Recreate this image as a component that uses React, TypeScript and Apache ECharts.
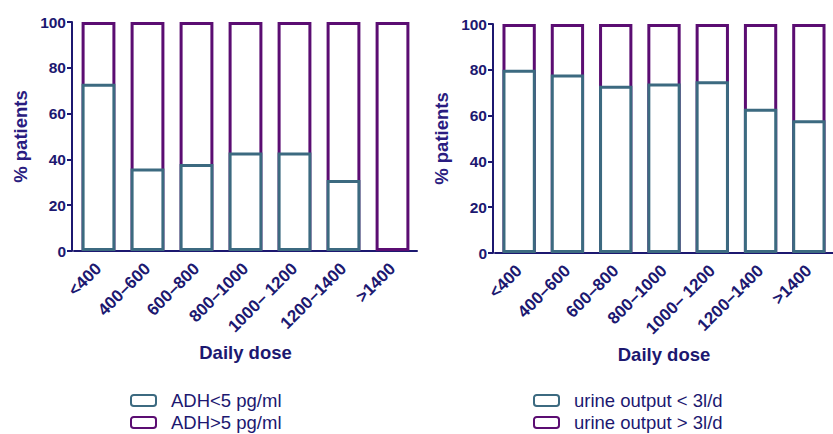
import React, { useEffect, useRef } from "react";
import * as echarts from "echarts";

const categories = ["<400", "400–600", "600–800", "800–1000", "1000– 1200", "1200–1400", ">1400"];
const adhLow = [73, 36, 38, 43, 43, 31, 0];
const adhHigh = [27, 64, 62, 57, 57, 69, 100];
const urineLow = [80, 78, 73, 74, 75, 63, 58];
const urineHigh = [20, 22, 27, 26, 25, 37, 42];
const yTicks = [0, 20, 40, 60, 80, 100];

const TEAL = "#3c6a80";
const PURPLE = "#5b0d72";
const NAVY = "#1c1870";
const FONT = "Liberation Sans, Arial, sans-serif";

export default function App() {
  const ref = useRef<HTMLDivElement>(null);
  useEffect(() => {
    if (!ref.current) return;
    const chart = echarts.init(ref.current, undefined, { renderer: "svg" });
    // upper segment bar spans from 0 to (lower + upper); lower segment is drawn over it
    const cumulative = (low: number[], high: number[]) => low.map((v, i) => v + high[i]);
    const nz = (arr: number[]) => arr.map((v) => (v === 0 ? "-" : v));
    const xAxisBase = (gridIndex: number) => ({
      type: "category" as const,
      gridIndex,
      data: categories,
      name: "Daily dose",
      nameLocation: "middle" as const,
      nameGap: 91,
      nameTextStyle: { color: NAVY, fontSize: 18.5, fontWeight: "bold", fontFamily: FONT },
      axisLine: { lineStyle: { color: NAVY, width: 2 } },
      axisTick: { alignWithLabel: true, length: 6, lineStyle: { color: NAVY, width: 2 } },
      axisLabel: { rotate: 45, color: NAVY, fontSize: 17, fontWeight: "bold", fontFamily: FONT, margin: 15 },
    });
    const yAxisBase = (gridIndex: number) => ({
      type: "value" as const,
      gridIndex,
      min: 0,
      max: 100,
      interval: 20,
      offset: 2,
      name: "% patients",
      nameLocation: "middle" as const,
      nameGap: 42,
      nameTextStyle: { color: "#2a1c80", fontSize: 18.5, fontWeight: "bold", fontFamily: FONT },
      splitLine: { show: false },
      axisLine: { show: true, lineStyle: { color: NAVY, width: 2 } },
      axisTick: { show: true, length: 5, lineStyle: { color: NAVY, width: 2 } },
      axisLabel: {
        color: NAVY,
        fontSize: 15.5,
        fontWeight: "bold",
        fontFamily: FONT,
        margin: 6,
        formatter: (v: number) => (yTicks.includes(v) ? String(v) : ""),
      },
    });
    const barSeries = (name: string, data: any[], idx: number, color: string, z: number) => ({
      type: "bar" as const,
      name,
      data,
      xAxisIndex: idx,
      yAxisIndex: idx,
      barWidth: "69%",
      barGap: "-100%",
      z,
      itemStyle: { color: "#ffffff", borderColor: color, borderWidth: 3 },
    });
    const legendItem = (name: string, left: number, top: number) => ({
      orient: "vertical" as const,
      left,
      top,
      itemWidth: 25,
      itemHeight: 11,
      padding: 0,
      data: [name],
      textStyle: { color: NAVY, fontSize: 18.5, fontFamily: FONT, padding: [0, 0, 0, 10] },
    });
    chart.setOption({
      animation: false,
      backgroundColor: "#ffffff",
      grid: [
        { left: 74, top: 22, width: 343, height: 229 },
        { left: 495, top: 24, width: 344, height: 229 },
      ],
      xAxis: [xAxisBase(0), xAxisBase(1)],
      yAxis: [yAxisBase(0), yAxisBase(1)],
      legend: [
        legendItem("ADH<5 pg/ml", 130, 391),
        legendItem("ADH>5 pg/ml", 130, 413),
        legendItem("urine output < 3l/d", 533, 391),
        legendItem("urine output > 3l/d", 533, 413),
      ],
      series: [
        barSeries("ADH<5 pg/ml", nz(adhLow), 0, TEAL, 3),
        barSeries("ADH>5 pg/ml", cumulative(adhLow, adhHigh), 0, PURPLE, 2),
        barSeries("urine output < 3l/d", urineLow, 1, TEAL, 3),
        barSeries("urine output > 3l/d", cumulative(urineLow, urineHigh), 1, PURPLE, 2),
      ],
    });
    return () => chart.dispose();
  }, []);
  return (
    <div
      ref={ref}
      style={{ position: "fixed", left: 0, top: 0, width: 833, height: 434, background: "#fff" }}
    />
  );
}
